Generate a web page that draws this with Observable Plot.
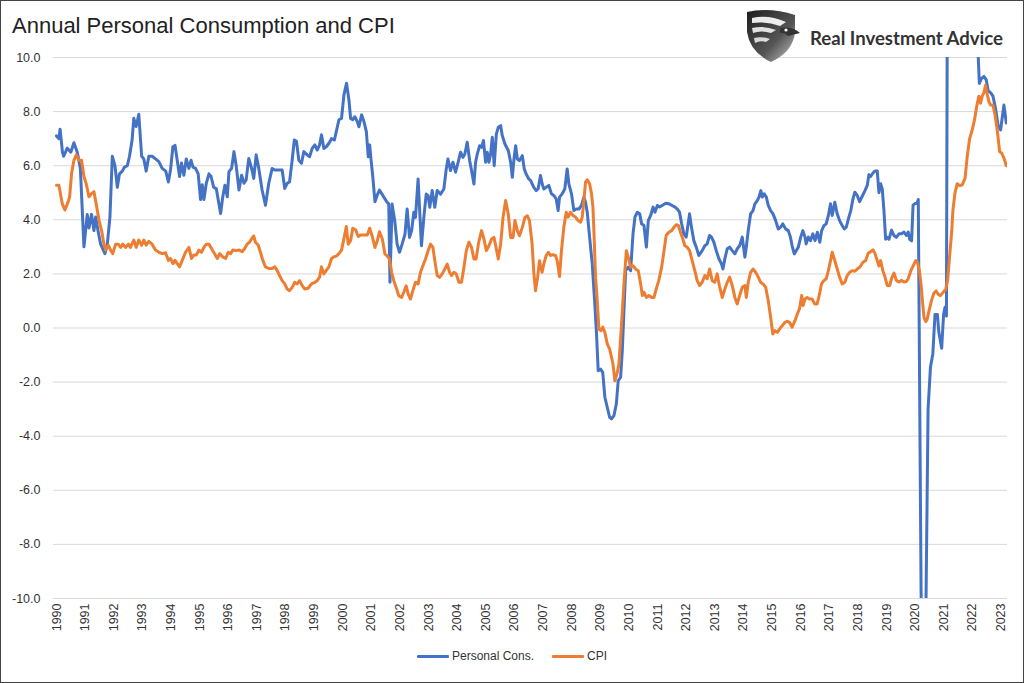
<!DOCTYPE html>
<html>
<head>
<meta charset="utf-8">
<script src="https://cdn.jsdelivr.net/npm/d3@7"></script>
<script src="https://cdn.jsdelivr.net/npm/@observablehq/plot@0.6"></script>
<style>
  html, body { margin: 0; padding: 0; background: #fff; }
  #wrap { position: relative; width: 1024px; height: 683px; overflow: hidden; background: #fff; font-family: "Liberation Sans", Arial, sans-serif; }
  #frame { position: absolute; inset: 0; border: 1px solid #444; box-sizing: border-box; pointer-events: none; }
  #title { position: absolute; left: 12px; top: 13px; font-size: 22px; color: #222; white-space: nowrap; }
  #chart { position: absolute; left: 0; top: 0; }
  #logo { position: absolute; left: 740px; top: 6px; }
  #legend { position: absolute; left: 0; width: 1024px; top: 649px; display: flex; justify-content: center; gap: 18px; font-size: 12px; color: #333; }
  .item { display: flex; align-items: center; }
  .swatch { width: 32px; height: 3px; margin-right: 3px; border-radius: 1px; }
</style>
</head>
<body>
<div id="wrap">
  <div id="title">Annual Personal Consumption and CPI</div>
  <div id="chart"></div>
  <svg id="logo" width="280" height="60" viewBox="0 0 280 60">
    <defs>
      <linearGradient id="g1" x1="0" y1="0" x2="1" y2="1">
        <stop offset="0" stop-color="#1e1e1e"/>
        <stop offset="0.6" stop-color="#555"/>
        <stop offset="1" stop-color="#c8c8c8"/>
      </linearGradient>
    </defs>
    <path d="M7,6 Q30,1 55,9 L55,26 Q53,46 31,56 Q10,46 7,26 Z" fill="url(#g1)"/>
    <path d="M12,12 Q28,8 46,16 L40,20 Q26,15 12,17 Z" fill="#fff" opacity="0.9"/>
    <path d="M12,22 Q24,19 36,24 L31,27 Q21,24 13,27 Z" fill="#fff" opacity="0.85"/>
    <path d="M14,32 Q22,30 30,33 L26,36 Q20,34 15,37 Z" fill="#fff" opacity="0.8"/>
    <path d="M40,22 Q52,20 60,27 L48,30 Q44,26 40,27 Z" fill="#333"/>
    <circle cx="46" cy="24" r="1.6" fill="#fff"/>
    <text x="70" y="39" font-family="Lato, 'Liberation Sans', sans-serif" font-weight="bold" font-size="18" fill="#333" textLength="193" lengthAdjust="spacingAndGlyphs">Real Investment Advice</text>
  </svg>
  <div id="legend">
    <div class="item"><div class="swatch" style="background:#4472C4"></div><span>Personal Cons.</span></div>
    <div class="item"><div class="swatch" style="background:#ED7D31"></div><span>CPI</span></div>
  </div>
  <div id="frame"></div>
</div>
<script>
// month index counted from Jan 1990, value in %
const personalCons = [
[0,7.1],[1,7.0],[1.5,7.35],[2.5,6.5],[3,6.35],[4.5,6.65],[6,6.5],[7.3,6.85],[8.7,6.5],[10,5.9],[11.5,3.0],[12.9,4.2],[13.6,3.7],[14.7,4.2],[15.7,3.6],[16.4,4.1],[17.5,3.55],[18.5,3.1],[20.3,2.75],[21.3,3.1],[22.4,4.1],[23.4,6.35],[24.5,6.0],[25.5,5.2],[26.4,5.7],[27.6,5.8],[28.5,5.95],[29.7,6.0],[30.6,6.35],[31.7,6.95],[32.4,7.75],[33.4,7.45],[34.5,7.9],[35.7,6.35],[36.6,6.25],[37.6,5.8],[38.7,6.35],[40.1,6.35],[41.5,6.25],[42.9,6.15],[44.3,5.9],[45.8,5.8],[46.9,5.4],[47.8,5.85],[48.8,6.7],[49.7,6.75],[50.6,6.2],[51.6,5.6],[52.4,6.1],[53.4,5.65],[54.4,6.25],[55.5,5.9],[56.4,6.2],[57.2,5.95],[58.3,5.9],[59.4,5.7],[60.4,4.75],[61.1,5.3],[61.8,4.75],[62.8,5.35],[63.9,5.7],[64.8,5.6],[65.9,5.2],[67,5.15],
[68.8,4.23],[69.7,4.85],[70.6,5.28],[71.6,4.85],[72.3,5.78],[73.4,5.9],[74.4,6.52],[75.3,6.02],[76.5,5.1],[77.6,5.65],[78.6,5.35],[79.5,5.47],[80.6,6.27],[81.8,5.9],[82.7,5.53],[83.7,6.4],[84.8,5.9],[86.2,5.1],[87.6,4.54],[89,5.35],[90.4,5.9],[91.5,5.84],[93.2,5.84],[94.6,5.84],[95.7,5.16],[96.7,5.35],[97.7,5.4],[98.8,6.2],[99.7,6.95],[100.6,6.9],[101.6,6.2],[102.7,6.09],[103.7,6.52],[105.1,6.4],[106.1,6.33],[107.2,6.64],[108.3,6.77],[109.3,6.58],[110.3,6.77],[111.1,7.14],[112.1,6.64],[113.1,6.7],[114.2,6.83],[115.3,7.0],[116.5,6.95],[117.3,7.26],[118.4,7.7],[119.5,7.75],[120.5,8.62],[121.6,9.05],[122.6,8.43],[123.3,7.75],[124.2,7.7],[125.1,7.81],[126.1,7.63],[126.8,7.44],[127.9,7.88],[128.9,7.63],[129.9,7.26],[130.7,6.33],[131.3,6.77],[131.8,6.27],[132.6,5.6],[133.5,4.67],[134.5,4.92],[135.4,5.1],
[137.3,4.83],[138.6,4.65],[139.3,4.58],[139.8,1.69],[140.7,4.58],[141.8,3.97],[142.8,3.1],[143.8,2.8],[144.9,3.1],[146.1,3.47],[147,4.4],[148,3.35],[148.9,3.6],[149.8,4.28],[150.5,4.09],[151.6,5.51],[153,3.04],[154,4.09],[155,4.95],[155.8,4.89],[156.5,4.46],[157.5,5.08],[158.6,4.46],[159.6,5.08],[161,4.95],[162.4,5.14],[163.4,5.88],[164.1,6.25],[165.2,5.82],[166.2,6.13],[167.3,5.76],[168.4,6.13],[169.4,6.5],[170.4,6.31],[171.2,6.43],[172.2,6.87],[173.2,6.19],[174,5.82],[175,5.32],[175.7,6.13],[176.4,6.43],[177.4,6.74],[178.2,6.68],[179,6.93],[179.9,6.13],[180.6,6.5],[181.3,6.13],[182,6.43],[182.7,7.05],[183.5,6.0],[184.4,7.17],[185.2,7.42],[186.2,7.48],[186.9,7.11],[188,6.8],[189.4,6.56],[190.4,6.13],[191.1,5.57],[191.8,6.25],[192.5,6.74],[193.2,6.25],[194.1,6.19],[195.3,6.37],[196.1,5.88],[196.9,5.69],[198,5.51],[198.8,5.45],[200.1,5.2],[201.1,5.08],[201.9,5.14],
[202.9,5.64],[203.6,5.33],[204.3,5.14],[205.3,5.2],[206.4,5.27],[207.5,4.96],[208.5,4.9],[209.5,4.77],[210.3,4.34],[210.9,4.84],[212,4.96],[213.1,5.14],[214.1,5.88],[214.8,5.33],[215.9,4.96],[216.9,4.34],[217.9,4.4],[219,4.4],[220.1,4.53],[221.1,4.84],[221.8,4.65],[222.5,4.28],[223.5,3.36],[224.6,2.37],[225.6,1.01],[226.4,-0.22],[227.1,-1.58],[228.1,-1.52],[229,-1.64],[229.9,-2.56],[230.9,-2.93],[231.9,-3.3],[232.7,-3.36],[233.7,-3.24],[234.7,-2.81],[235.5,-1.95],[236.5,-1.82],[237.2,-0.84],[237.9,0.64],[238.6,2.12],[239.7,2.25],[240.7,2.12],[241.7,3.48],[242.5,4.1],[243.5,4.28],[244.5,4.22],[245.3,3.85],[246.3,3.79],[247.3,2.99],[248.1,3.97],[249.1,4.16],[250.1,4.47],[250.9,4.28],[251.9,4.53],[252.8,4.47],[253.9,4.53],[255.4,4.61],[256.8,4.59],[258.1,4.53],[259.3,4.47],[260.2,4.4],[261.2,4.28],[262.1,3.85],[263,3.48],[264,3.36],[264.8,3.85],[265.4,4.22],[266.2,3.73],[267.2,3.23],[268.2,2.99],[269.3,2.68],
[270.7,2.86],[271.8,3.04],[272.8,3.11],[273.8,3.42],[274.6,3.36],[275.6,3.17],[276.6,2.86],[277.7,2.56],[278.8,2.37],[279.4,2.18],[280.2,2.56],[281.2,2.93],[282.2,2.99],[283.3,2.86],[284.4,2.74],[285.4,2.93],[286.4,3.04],[287.5,3.36],[288.6,2.62],[289.2,2.99],[290,3.6],[291,4.22],[292,4.34],[292.8,4.59],[293.8,4.71],[294.5,4.84],[295.3,5.08],[295.9,4.84],[296.7,4.96],[297.6,4.84],[298.4,4.53],[299.4,4.34],[300.4,4.22],[301.5,3.97],[302.6,3.66],[303.6,3.73],[304.5,3.85],[305.7,3.66],[306.8,3.6],[307.7,3.36],[308.4,3.04],[309.3,2.74],[310.1,2.86],[311,2.99],[312,3.36],[312.9,3.6],[313.8,3.36],[314.3,3.11],[315.2,3.36],[316.1,3.23],[317.1,3.48],[318,3.23],[319,3.54],[320,3.17],[320.8,3.6],[321.8,3.79],[322.7,3.85],[323.6,4.16],[324.5,4.59],[325.2,4.16],[326.3,4.65],[327.3,4.22],[328.3,3.97],[329.4,3.79],[330.3,3.66],[331.1,3.73],[332.2,4.1],[333,4.34],[333.9,4.77],[334.7,5.02],[335.7,4.9],
[336.7,4.67],[337.8,4.87],[338.9,5.07],[339.9,5.27],[340.6,5.67],[341.3,5.6],[342.3,5.73],[343.1,5.8],[344.1,5.8],[344.8,5.0],[345.5,5.33],[346.2,5.14],[346.9,4.34],[347.6,3.28],[348.3,3.35],[349,3.28],[350.1,3.62],[351.1,3.42],[352.1,3.35],[353.2,3.48],[354.3,3.48],[355.3,3.55],[356.3,3.42],[357.1,3.55],[357.7,3.28],[358.5,3.22],[359.1,4.54],[359.9,4.6],[360.7,4.6],[361.3,4.75],[363,-16.3],[364.3,-12],[365.4,-3.0],[366.4,-1.45],[367.4,-0.95],[368.3,0.5],[369.3,0.5],[369.9,-0.15],[371.1,-0.75],[371.9,0.5],[372.5,0.77],[373.1,0.44],[374,29.5],[375,23],[376,17],[377,13.5],[379,12.5],[382,12.8],[385,11],[386.4,10.1],[386.9,9.04],[387.8,9.23],[388.8,9.3],[389.8,9.17],[390.6,8.77],[391.6,8.7],[392.6,8.57],[393.7,8.11],[394.8,7.45],[395.8,7.32],[396.5,7.78],[397.2,8.24],[398.2,7.58]
];
const cpi = [
[0,5.28],[1,5.28],[2.4,4.6],[3.5,4.36],[4.9,4.67],[5.5,4.85],[6.3,5.7],[7.3,6.2],[8.3,6.4],[9.4,6.2],[10.5,6.2],[11.5,5.6],[12.4,5.35],[13.6,4.85],[14.7,4.97],[15.7,5.04],[16.6,4.6],[17.8,3.99],[18.9,3.6],[19.9,3.1],[20.6,2.88],[21.7,3.06],[22.7,2.88],[23.6,2.75],[24.8,3.1],[25.9,3.1],[26.9,2.98],[27.8,3.1],[29,2.98],[30.1,3.1],[31,2.98],[32.4,3.25],[33.4,2.98],[34.5,3.25],[35.7,3.06],[36.6,3.25],[37.6,3.06],[38.7,3.2],[40.1,3.1],[41.5,2.88],[42.9,2.8],[44.3,2.75],[45.7,2.78],[46.9,2.5],[47.8,2.57],[48.8,2.38],[49.7,2.5],[50.6,2.38],[51.6,2.26],[52.7,2.5],[54.1,2.8],[55.5,2.98],[56.6,2.57],[57.6,2.7],[58.6,2.7],[59.7,2.88],[60.8,2.8],[61.8,2.98],[62.8,3.1],[63.9,3.1],[65,2.94],[66.2,2.75],[67.4,2.57],[68.4,2.75],
[69.7,2.63],[70.9,2.57],[72,2.8],[73,2.75],[73.9,2.88],[75.3,2.86],[76.7,2.88],[77.8,2.82],[78.9,2.94],[79.9,3.1],[80.9,3.17],[81.8,3.3],[82.7,3.4],[83.4,3.17],[84.6,3.06],[85.5,2.8],[86.5,2.5],[87.6,2.26],[89,2.2],[90.4,2.2],[91.5,2.26],[92.5,2.13],[93.5,1.94],[94.6,1.75],[95.7,1.63],[96.7,1.44],[97.7,1.38],[98.8,1.5],[99.9,1.69],[100.9,1.63],[101.9,1.75],[103,1.57],[104.1,1.44],[105.5,1.47],[106.9,1.63],[108.3,1.69],[109.3,1.75],[110.3,1.88],[111.1,2.26],[112.1,2.0],[113.1,2.13],[114.2,2.26],[115.3,2.57],[116.3,2.63],[117.3,2.66],[118.4,2.75],[119.5,2.88],[120.5,3.3],[121.5,3.75],[122.3,3.1],[123.3,3.23],[124.2,3.69],[125.4,3.63],[126.5,3.38],[127.5,3.44],[128.9,3.44],[130.3,3.44],[131.3,3.69],[132.4,3.38],[133.5,2.98],[134.5,3.23],[135.4,3.56],
[136.6,3.29],[137.7,2.73],[138.6,2.67],[139.6,2.55],[140.5,2.06],[141.4,1.75],[142.4,1.5],[143.5,1.19],[144.7,1.13],[145.6,1.32],[146.6,1.56],[147.4,1.26],[148.4,1.07],[149.4,1.38],[150.5,1.69],[151.6,1.63],[152.6,2.06],[153.6,2.3],[154.7,2.55],[155.8,2.86],[156.8,3.1],[157.8,2.98],[158.6,2.49],[159.6,1.94],[160.6,1.87],[161.7,2.0],[162.8,2.18],[163.8,2.36],[164.8,2.06],[165.6,1.94],[166.6,2.06],[167.6,2.0],[168.7,1.69],[169.8,1.69],[170.8,2.24],[171.8,2.86],[172.9,3.17],[174,2.98],[175,2.55],[175.9,2.55],[177,3.17],[178.2,3.6],[179.2,3.29],[180.2,2.86],[181.3,3.04],[182.4,3.29],[183.4,3.35],[184.4,2.92],[185.2,2.55],[186.2,3.1],[187.2,4.09],[188.3,4.71],[189.4,4.21],[190.4,3.35],[191.4,3.35],[192.2,3.97],[193.2,3.6],[194.1,3.41],[195.3,3.72],[196.4,4.09],[197.4,4.15],[198.3,3.97],[199.4,3.1],[200.1,2.06],[200.8,1.38],[201.7,1.87],[202.5,2.49],
[202.9,2.3],[203.6,2.06],[204.3,2.37],[205.3,2.68],[206.2,2.8],[207.1,2.68],[208.1,2.71],[209.2,2.68],[209.9,2.49],[210.9,1.9],[211.7,2.86],[212.7,3.73],[213.7,4.28],[214.5,4.1],[215.5,4.28],[216.5,4.16],[217.6,4.1],[218.7,3.97],[219.7,3.91],[220.4,4.1],[221.1,4.71],[221.8,5.39],[222.5,5.48],[223.5,5.33],[224.3,4.96],[224.9,4.47],[225.4,3.36],[226,1.88],[226.7,1.01],[227.4,-0.04],[228.2,-0.1],[229,0.03],[229.9,-0.16],[230.9,-0.59],[231.9,-0.78],[232.7,-1.09],[233.3,-1.33],[234.1,-1.95],[235.1,-1.64],[235.8,-1.33],[236.9,0.15],[237.9,1.63],[238.9,2.86],[239.7,2.62],[240.7,2.25],[241.7,2.3],[242.8,2.18],[243.9,2.12],[244.9,1.63],[245.6,1.2],[246.3,1.32],[247.3,1.13],[248.4,1.2],[249.5,1.13],[250.5,1.13],[251.4,1.44],[252.5,1.75],[253.7,2.25],[254.7,2.86],[255.6,3.42],[256.7,3.54],[257.9,3.6],[258.9,3.73],[259.8,3.82],[260.7,3.79],[261.6,3.54],[262.6,3.29],[263.4,3.04],[264.4,2.99],[265.4,2.86],[266.5,2.49],[267.6,2.12],[268.6,1.75],[269.6,1.57],
[270.7,1.69],[271.8,1.94],[272.8,1.82],[273.8,2.18],[274.9,1.75],[276,1.69],[277,2.0],[277.9,1.57],[279.1,1.13],[280.2,1.44],[281.2,1.69],[282.2,1.88],[283.3,1.57],[284.4,1.13],[285.4,0.89],[286.4,1.2],[287.5,1.51],[288.6,1.57],[289.2,1.13],[290,1.69],[291,2.06],[292,2.18],[293.1,2.06],[294.2,1.88],[295.2,1.69],[296.2,1.63],[297.3,1.51],[298.4,1.01],[299.4,0.4],[300.3,-0.22],[301.2,-0.1],[302.2,-0.16],[303.1,-0.04],[304.3,0.09],[305.4,0.21],[306.3,0.25],[307.3,0.21],[308.4,0.03],[309.6,0.27],[310.6,0.52],[311.5,0.71],[312.4,1.2],[313,0.83],[313.8,1.07],[314.7,1.13],[315.7,1.07],[316.8,1.07],[317.9,0.89],[318.9,0.89],[319.9,1.26],[320.7,1.63],[321.7,1.75],[322.7,1.82],[323.6,2.12],[324.5,2.49],[325.2,2.8],[326.3,2.49],[327.3,2.18],[328.3,1.88],[329.4,1.63],[330.5,1.69],[331.5,1.94],[332.5,2.06],[333.6,2.12],[334.7,2.1],[335.7,2.18],[336.7,2.25],
[337.1,2.29],[338.1,2.43],[339.2,2.49],[340.3,2.76],[341.3,2.82],[342.3,2.89],[343.1,2.76],[344.1,2.49],[344.8,2.29],[345.5,2.49],[346.5,2.1],[347.3,1.9],[348.3,1.57],[349.3,1.57],[350.1,1.83],[351.1,2.03],[352.1,1.76],[353.2,1.7],[354.3,1.76],[355.3,1.7],[356.3,1.72],[357.1,1.83],[358.1,2.1],[359.1,2.29],[360.2,2.49],[361,2.43],[361.8,2.1],[362.5,1.57],[363,1.04],[363.7,0.38],[364.4,0.24],[365,0.31],[365.8,0.64],[366.9,1.04],[367.9,1.3],[368.8,1.37],[369.7,1.24],[370.6,1.2],[371.6,1.3],[372.8,1.43],[373.6,1.76],[374.4,2.62],[375.3,3.55],[375.8,4.34],[376.7,5.0],[377.6,5.33],[378.6,5.27],[379.7,5.29],[380.9,5.53],[381.8,6.33],[382.8,6.99],[383.9,7.32],[384.9,7.71],[385.9,8.24],[386.7,8.57],[387.4,8.31],[388.1,8.57],[388.8,8.7],[389.5,8.97],[390.2,8.64],[390.9,8.37],[391.6,8.24],[392.6,8.24],[393.4,7.91],[394.4,7.32],[395.4,6.52],[396.3,6.46],[397.3,6.26],[398.2,6.0]
];
const years = d3.range(1990, 2024);
const yTicks = d3.range(-10, 10.001, 2);

const rows = [
  ...personalCons.map(([m, v]) => ({m, v, s: "Personal Cons."})),
  ...cpi.map(([m, v]) => ({m, v, s: "CPI"}))
];

const chart = Plot.plot({
  width: 1024,
  height: 640,
  marginTop: 57,
  marginBottom: 42,
  marginLeft: 53,
  marginRight: 17,
  style: { fontFamily: "'Liberation Sans', Arial, sans-serif", fontSize: "12.5px", color: "#333", background: "transparent" },
  x: { type: "linear", domain: [-1.26, 398.7] },
  y: { domain: [-10, 10] },
  color: { domain: ["Personal Cons.", "CPI"], range: ["#4472C4", "#ED7D31"] },
  marks: [
    Plot.gridY(yTicks, { stroke: "#d9d9d9", strokeOpacity: 1, strokeWidth: 1 }),
    Plot.axisY(yTicks, { tickSize: 0, tickPadding: 13, tickFormat: d => d.toFixed(1), label: null, fontSize: 12.5 }),
    Plot.axisX(years.map((y, i) => i * 12), { tickSize: 0, tickPadding: 5, tickRotate: -90, tickFormat: d => String(years[Math.round(d / 12)]), label: null, fontSize: 12.5 }),
    Plot.line(rows, { x: "m", y: "v", z: "s", stroke: "s", strokeWidth: 3, clip: true, strokeLinejoin: "round", curve: "linear" })
  ]
});
document.getElementById("chart").appendChild(chart);
</script>
</body>
</html>
